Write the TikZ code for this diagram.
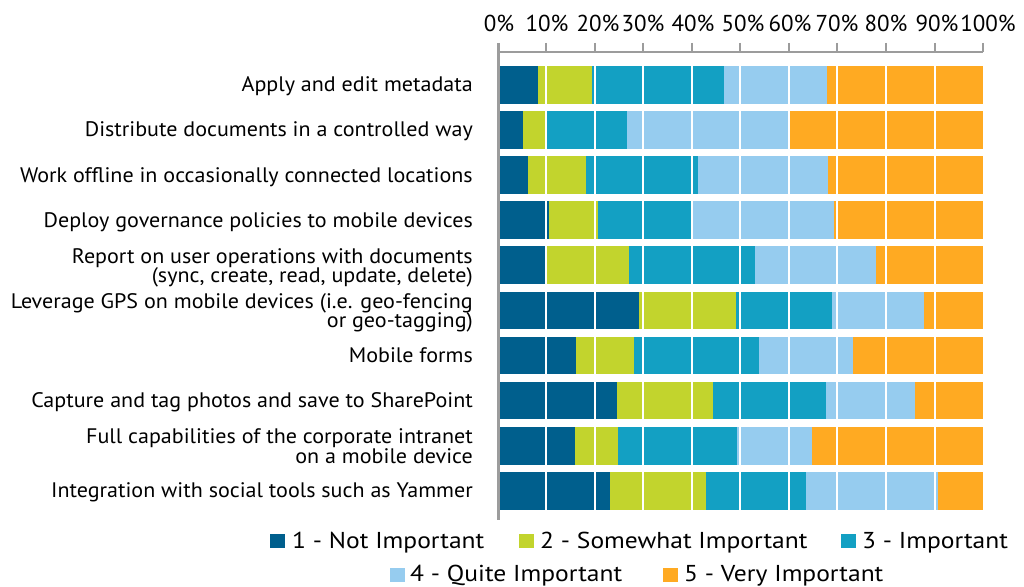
\documentclass[tikz,border=0pt]{standalone}
\usepackage{fontspec}
\setmainfont{PT Sans}
\newfontfamily\labfont[FakeStretch=1.05]{PT Sans}
\newfontfamily\legfont[FakeStretch=1.11]{PT Sans}
\definecolor{cone}{HTML}{005F8D}
\definecolor{ctwo}{HTML}{C2D42D}
\definecolor{cthree}{HTML}{13A0C3}
\definecolor{cfour}{HTML}{96CCEF}
\definecolor{cfive}{HTML}{FFAA22}
\definecolor{axisgray}{HTML}{9C9C9C}
\tikzset{
  catlabel/.style={anchor=base east, inner sep=0pt, font=\labfont\fontsize{21}{24}\selectfont, text=black},
  ticklabel/.style={anchor=base, inner sep=0pt, font=\fontsize{23}{26}\selectfont, text=black},
  legtext/.style={anchor=base west, inner sep=0pt, font=\legfont\fontsize{23}{26}\selectfont, text=black},
  gridw/.style={white, line width=2pt},
  axisline/.style={axisgray, line width=2pt}
}
\begin{document}
\begin{tikzpicture}[x=1pt,y=-1pt]
\useasboundingbox[fill=white] (0,0) rectangle (1024,586);
% bars
\foreach \pa/\pb/\pc/\pd [count=\i from 0] in {
  538/592/724/827,
  523/546/627/789,
  528/586/698/828,
  549/598/692/834,
  546/629/755/876,
  639/736/832/923.7,
  576/634/759/853,
  617/713/826/915,
  575/618/737/812,
  610/706/806/937.7}{
  \pgfmathsetmacro\yt{66+45.1*\i}
  \pgfmathsetmacro\yb{\yt+37.7}
  \fill[cone]   (500,\yt) rectangle (\pa,\yb);
  \fill[ctwo]   (\pa,\yt) rectangle (\pb,\yb);
  \fill[cthree] (\pb,\yt) rectangle (\pc,\yb);
  \fill[cfour]  (\pc,\yt) rectangle (\pd,\yb);
  \fill[cfive]  (\pd,\yt) rectangle (983,\yb);
}
% white gridlines
\foreach \x in {546,594.6,643.2,691.7,740.3,788.8,837.4,885.9,934.5}
  \draw[gridw] (\x,60) -- (\x,516);
% axes
\draw[axisgray, line width=3pt] (498.5,43) -- (498.5,520);
\draw[axisline] (497,52) -- (983,52);
\foreach \x in {546,594.6,643.2,691.7,740.3,788.8,837.4,885.9,934.5,983}
  \draw[axisline] (\x,43) -- (\x,52);
% tick labels
\foreach \x/\t [count=\k] in {499/0\%,547/10\%,598/20\%,643/30\%,693/40\%,743/50\%,790/60\%,837/70\%,886/80\%,937/90\%,988/100\%}
  \node[ticklabel] (tk\k) at (\x,31.5) {\t};
% category labels
\node[catlabel] (l1) at (473,91.85) {Apply and edit metadata};
\node[catlabel] (l2) at (473,136.95) {Distribute documents in a controlled way};
\node[catlabel] (l3) at (473,182.05) {Work offline in occasionally connected locations};
\node[catlabel] (l4) at (473,227.15) {Deploy governance policies to mobile devices};
\node[catlabel] (l5a) at (473,263.1) {Report on user operations with documents};
\node[catlabel] (l5b) at (473,282.6) {(sync, create, read, update, delete)};
\node[catlabel] (l6a) at (473,308.2) {Leverage GPS on mobile devices (i.e. geo-fencing};
\node[catlabel] (l6b) at (473,327.7) {or geo-tagging)};
\node[catlabel] (l7) at (473,362.45) {Mobile forms};
\node[catlabel] (l8) at (473,407.55) {Capture and tag photos and save to SharePoint};
\node[catlabel] (l9a) at (473,443.5) {Full capabilities of the corporate intranet};
\node[catlabel] (l9b) at (473,463.0) {on a mobile device};
\node[catlabel] (l10) at (473,497.75) {Integration with social tools such as Yammer};
% legend
\fill[cone]   (270,534) rectangle (285,548);
\node[legtext] (lg1) at (292,548) {1 - Not Important};
\fill[ctwo]   (519,534) rectangle (534,548);
\node[legtext] (lg2) at (540,548) {2 - Somewhat Important};
\fill[cthree] (841,534) rectangle (856,548);
\node[legtext] (lg3) at (862,548) {3 - Important};
\fill[cfour]  (390,568) rectangle (405,582);
\node[legtext] (lg4) at (410,581.5) {4 - Quite Important};
\fill[cfive]  (663,568) rectangle (678,582);
\node[legtext] (lg5) at (684,581.5) {5 - Very Important};
\end{tikzpicture}
\end{document}
